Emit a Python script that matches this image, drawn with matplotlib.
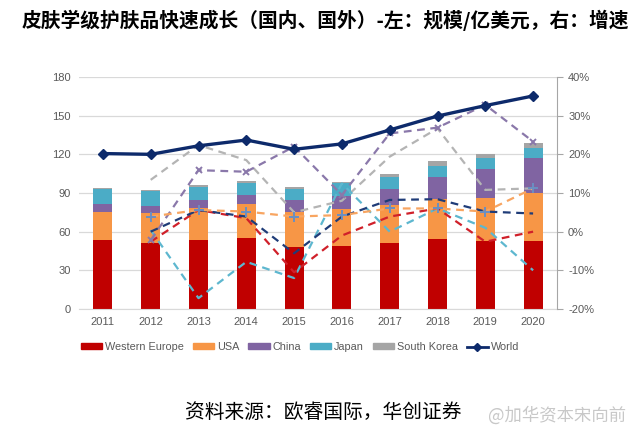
import matplotlib
matplotlib.use("Agg")
import matplotlib.pyplot as plt
from matplotlib.patches import Patch
from matplotlib.lines import Line2D
import numpy as np

plt.rcParams['font.family'] = ['Liberation Sans', 'Noto Sans CJK SC', 'DejaVu Sans']

years = ["2011", "2012", "2013", "2014", "2015", "2016", "2017", "2018", "2019", "2020"]

# Market size (亿美元)
western_europe = [53.5, 51.0, 53.5, 55.3, 48.3, 48.9, 51.0, 54.0, 52.7, 52.7]
usa            = [22.0, 23.2, 24.5, 26.2, 26.9, 28.4, 30.0, 31.6, 33.2, 37.0]
china          = [6.0, 5.8, 6.5, 7.2, 9.3, 10.3, 12.3, 17.0, 22.5, 27.7]
japan          = [11.5, 11.8, 9.9, 8.8, 8.3, 9.9, 8.9, 8.4, 8.5, 7.7]
south_korea    = [1.0, 0.8, 1.6, 1.5, 1.6, 1.0, 2.3, 3.8, 3.3, 3.9]

# Growth rates (%), right axis
world_growth  = [20.2, 20.0, 22.2, 23.7, 21.3, 22.7, 26.3, 29.9, 32.6, 35.1]
we_growth     = [None, -2.6, 5.6, 3.5, -10.5, -1.0, 3.9, 6.0, -2.6, 0.0]
usa_growth    = [None, 3.9, 5.6, 5.2, 3.9, 4.3, 6.0, 6.0, 5.2, 11.2]
china_growth  = [None, -2.2, 15.9, 15.5, 22.0, 9.5, 25.4, 26.9, 32.8, 23.3]
japan_growth  = [None, 0.4, -17.2, -7.8, -12.0, 12.5, 0.0, 6.0, 1.0, -10.0]
korea_growth  = [None, 13.4, 22.4, 18.5, 5.0, 8.0, 19.4, 26.7, 10.8, 11.2]
other_growth  = [None, 0.0, 5.6, 3.9, -5.6, 3.9, 8.2, 8.4, 5.2, 4.7]

legend_labels = ["Western Europe", "USA", "China", "Japan", "South Korea", "World"]

c_we, c_usa, c_cn, c_jp, c_kr, c_world = "#C00000", "#F79646", "#8064A2", "#4BACC6", "#A5A5A5", "#0D2A6B"

fig = plt.figure(figsize=(6.4, 4.45), dpi=100)
ax = fig.add_axes([79/640, 1-309/445, (557-79)/640, (309-77)/445])
ax2 = ax.twinx()

x = np.arange(len(years))
w = 0.4
bottom = np.zeros(len(years))
for vals, col in [(western_europe, c_we), (usa, c_usa), (china, c_cn), (japan, c_jp), (south_korea, c_kr)]:
    ax.bar(x, vals, w, bottom=bottom, color=col, zorder=2)
    bottom += np.array(vals)

ax.set_ylim(0, 180)
ax.set_yticks(np.arange(0, 181, 30))
ax.set_xlim(-0.5, len(years)-0.5)
ax.set_xticks(x)
ax.set_xticklabels(years)
ax.grid(axis='y', color='#D9D9D9', linewidth=0.9, zorder=0)
ax.set_axisbelow(True)
for s in ['top', 'left', 'right']:
    ax.spines[s].set_visible(False)
ax.spines['bottom'].set_color('#D9D9D9')
ax.tick_params(axis='both', length=0, labelsize=8, colors='#595959', pad=6)

def dash(vals, col, marker=None, mcol=None, ms=5):
    xs = [i for i, v in enumerate(vals) if v is not None]
    ys = [v for v in vals if v is not None]
    ax2.plot(xs, ys, color=col, linestyle=(0, (3.5, 2.5)), linewidth=1.6, zorder=3,
             marker=marker, markersize=ms, markeredgecolor=mcol or col, markerfacecolor=mcol or col,
             markeredgewidth=1.4)

dash(korea_growth, "#B4B4B4")
dash(japan_growth, "#5DB7CF")
dash(we_growth, "#D0202A")
dash(china_growth, "#8A78AA", marker='x', ms=5)
dash(other_growth, "#1F3C78")
dash(usa_growth, "#F8A561", marker='+', mcol="#6B8FC2", ms=7)

ax2.plot(x, world_growth, color=c_world, linewidth=2.4, marker='D', markersize=5.5, zorder=5)
ax2.set_ylim(-20, 40)
ax2.set_yticks(np.arange(-20, 41, 10))
ax2.set_yticklabels([f"{v}%" for v in range(-20, 41, 10)])
for s in ['top', 'left', 'bottom']:
    ax2.spines[s].set_visible(False)
ax2.spines['right'].set_color('#A6A6A6')
ax2.tick_params(axis='y', length=4, color='#A6A6A6', labelsize=8, labelcolor='#595959', pad=4)

handles = [Patch(color=c) for c in [c_we, c_usa, c_cn, c_jp, c_kr]]
handles.append(Line2D([0], [0], color=c_world, linewidth=2, marker='D', markersize=4))
fig.legend(handles, legend_labels, loc='center', bbox_to_anchor=(300/640, 1-347/445), ncol=6,
           frameon=False, fontsize=7.8, handlelength=2.0, handleheight=0.45, handletextpad=0.25,
           columnspacing=0.8, labelcolor='#595959')

fig.text(22/640, 1-20/445, "皮肤学级护肤品快速成长（国内、国外）-左：规模/亿美元，右：增速",
         family=['Noto Sans CJK SC'], fontsize=14.2, fontweight='bold', va='center', ha='left')
fig.text(185/640, 1-412/445, "资料来源：欧睿国际，华创证券",
         family=['Noto Sans CJK SC'], fontsize=14.2, va='center', ha='left')
fig.text(488/640, 1-415/445, "@加华资本宋向前",
         family=['Noto Sans CJK SC'], fontsize=12.5, va='center', ha='left', color='#C8C8C8')

fig.savefig("out.png", dpi=100)
